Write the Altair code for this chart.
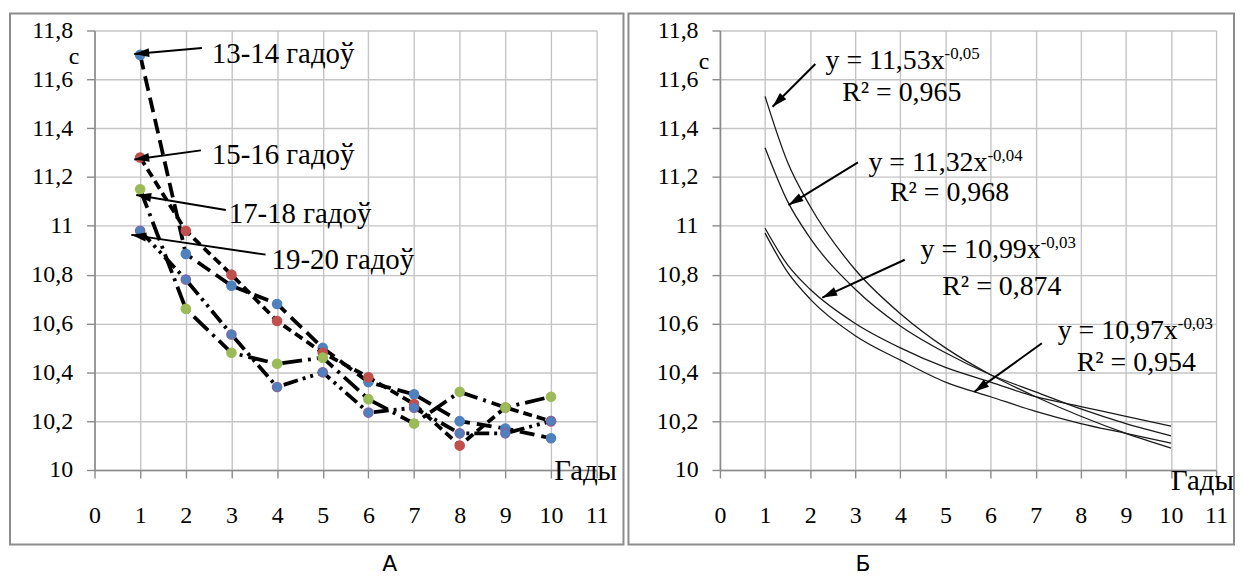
import math
import altair as alt
import pandas as pd

# ---------------- data ----------------
years = [1, 2, 3, 4, 5, 6, 7, 8, 9, 10]
series_labels = ["13-14 гадоў", "15-16 гадоў", "17-18 гадоў", "19-20 гадоў"]
speed_13_14 = [11.70, 10.885, 10.755, 10.68, 10.50, 10.36, 10.31, 10.20, 10.17, 10.13]
speed_15_16 = [11.28, 10.98, 10.80, 10.61, 10.48, 10.38, 10.27, 10.10, 10.256, 10.20]
speed_17_18 = [11.15, 10.66, 10.48, 10.435, 10.46, 10.29, 10.19, 10.32, 10.256, 10.30]
speed_19_20 = [10.98, 10.78, 10.555, 10.34, 10.40, 10.235, 10.255, 10.15, 10.15, 10.20]

fit_x = [1, 1.5, 2, 3, 4, 5, 6, 7, 8, 9, 10]
fit_13_14 = [11.53, 11.26, 11.08, 10.82, 10.64, 10.50, 10.39, 10.30, 10.22, 10.15, 10.09]
fit_15_16 = [11.32, 11.10, 10.95, 10.74, 10.59, 10.48, 10.39, 10.32, 10.25, 10.19, 10.14]
fit_17_18 = [10.99, 10.84, 10.74, 10.60, 10.50, 10.42, 10.36, 10.30, 10.26, 10.22, 10.18]
fit_19_20 = [10.97, 10.81, 10.70, 10.55, 10.45, 10.36, 10.30, 10.24, 10.19, 10.15, 10.11]

equations = ["y = 11,53x", "y = 11,32x", "y = 10,99x", "y = 10,97x"]
exponents = ["-0,05", "-0,04", "-0,03", "-0,03"]
r2_labels = ["R² = 0,965", "R² = 0,968", "R² = 0,874", "R² = 0,954"]

x_ticks = [0, 1, 2, 3, 4, 5, 6, 7, 8, 9, 10, 11]
y_ticks = [10, 10.2, 10.4, 10.6, 10.8, 11, 11.2, 11.4, 11.6, 11.8]
y_unit = "с"
x_unit = "Гады"
panel_names = ["А", "Б"]

# annotation anchor positions (data units)
left_label_pos = [(2.57, 11.705), (2.57, 11.29), (2.94, 11.05), (3.88, 10.86)]
left_arrow_tail = [(2.353, 11.728), (2.33, 11.309), (2.876, 11.065), (3.747, 10.882)]
left_arrow_tip = [(0.871, 11.704), (0.871, 11.272), (0.915, 11.126), (0.806, 10.963)]

right_eq_end = [(4.98, 11.675), (5.93, 11.256), (7.11, 10.90), (10.15, 10.568)]
right_r2_pos = [(2.71, 11.545), (3.77, 11.134), (4.93, 10.75), (7.91, 10.44)]
right_arrow_tail = [(2.115, 11.663), (3.06, 11.26), (4.097, 10.861), (7.137, 10.519)]
right_arrow_tip = [(1.167, 11.488), (1.52, 11.085), (2.269, 10.706), (5.639, 10.32)]

# ---------------- styling ----------------
W1, W2, H = 505, 499, 442
SERIF = "'Liberation Serif', 'Times New Roman', 'DejaVu Serif', 'Liberation Sans', serif"
fills = ["#4F81BD", "#C0504D", "#9BBB59", "#4F81BD"]
edges = ["#4F81BD", "#C0504D", "#9BBB59", "#8064A2"]
dashes = [[15, 7], [9, 5], [20, 6, 3, 6], [15, 5, 3, 5, 3, 5]]

xs = alt.Scale(domain=[0, 11], nice=False, zero=False)
ys = alt.Scale(domain=[10, 11.8], nice=False, zero=False)

xaxis = alt.Axis(values=x_ticks, format="d", title=None, grid=True,
                 gridColor="#c4c4c4", gridWidth=1.4, domainColor="#8a8a8a",
                 domainWidth=1.6, tickColor="#8a8a8a", tickWidth=1.4, tickSize=8,
                 labelFont=SERIF, labelFontSize=24, labelColor="black",
                 labelPadding=26, labelFlush=False, labelOverlap=False)
yaxis = alt.Axis(values=y_ticks, title=None, grid=True,
                 labelExpr="replace(format(datum.value, '.1~f'), '.', ',')",
                 gridColor="#c4c4c4", gridWidth=1.4, domainColor="#8a8a8a",
                 domainWidth=1.6, tickColor="#8a8a8a", tickWidth=1.4, tickSize=8,
                 labelFont=SERIF, labelFontSize=24, labelColor="black",
                 labelPadding=14, labelFlush=False, labelOverlap=False)


def X():
    return alt.X("x:Q", scale=xs, axis=xaxis)


def Y():
    return alt.Y("y:Q", scale=ys, axis=yaxis)


def frame(x0, x1):
    return alt.Chart(pd.DataFrame({"a": [0]})).mark_rect(
        fillOpacity=0, stroke="#8c8c8c", strokeWidth=2
    ).encode(x=alt.value(x0), x2=alt.value(x1), y=alt.value(-17), y2=alt.value(517))


def arrows(tails, tips, w):
    sx, sy = w / 11.0, H / 1.8
    rows = []
    for (tx, ty), (hx, hy) in zip(tails, tips):
        dx = (hx - tx) * sx
        dy = -(hy - ty) * sy
        ang = math.degrees(math.atan2(dx, -dy)) % 360
        rows.append({"x": tx, "y": ty, "x2": hx, "y2": hy, "hx": hx, "hy": hy, "ang": ang})
    df = pd.DataFrame(rows)
    shaft = alt.Chart(df).mark_rule(color="black", strokeWidth=2).encode(
        x=X(), y=Y(), x2="x2:Q", y2="y2:Q")
    head = alt.Chart(df).mark_point(
        shape="M0,0L0.6,2L-0.6,2Z", filled=True, color="black", opacity=1,
        size=225, strokeWidth=0
    ).encode(x=alt.X("hx:Q", scale=xs, axis=xaxis), y=alt.Y("hy:Q", scale=ys, axis=yaxis),
             angle=alt.Angle("ang:Q", scale=None))
    return [shaft, head]


def text_layer(rows, size, align, font=SERIF, dy=0):
    df = pd.DataFrame(rows)
    return alt.Chart(df).mark_text(
        font=font, fontSize=size, align=align, baseline="middle", color="black", dy=dy
    ).encode(x=X(), y=Y(), text="t:N")


# ---------------- panel A ----------------
left_layers = [frame(-85, 532)]
for vals, fc, ec, dash in zip([speed_13_14, speed_15_16, speed_17_18, speed_19_20],
                              fills, edges, dashes):
    df = pd.DataFrame({"x": years, "y": vals})
    left_layers.append(alt.Chart(df).mark_line(
        color="black", strokeWidth=3.8, strokeDash=dash, strokeCap="butt"
    ).encode(x=X(), y=Y()))
    left_layers.append(alt.Chart(df).mark_circle(
        size=90, color=fc, stroke=ec, strokeWidth=1.2, opacity=1
    ).encode(x=X(), y=Y()))
left_layers += arrows(left_arrow_tail, left_arrow_tip, W1)
left_layers.append(text_layer(
    [{"x": p[0], "y": p[1], "t": t} for p, t in zip(left_label_pos, series_labels)], 29, "left"))
left_layers.append(text_layer([{"x": -0.45, "y": 11.69, "t": y_unit}], 24, "center"))
left_layers.append(text_layer([{"x": 10.07, "y": 9.994, "t": x_unit}], 29, "left"))
left_layers.append(text_layer([{"x": 6.47, "y": 9.613, "t": panel_names[0]}], 22, "center",
                              font="DejaVu Sans"))
left = alt.layer(*left_layers).properties(width=W1, height=H)

# ---------------- panel B ----------------
right_layers = [frame(-92, 517)]
for vals in [fit_13_14, fit_15_16, fit_17_18, fit_19_20]:
    df = pd.DataFrame({"x": fit_x, "y": vals})
    right_layers.append(alt.Chart(df).mark_line(
        color="#1a1a1a", strokeWidth=1.3, interpolate="monotone"
    ).encode(x=X(), y=Y()))
right_layers += arrows(right_arrow_tail, right_arrow_tip, W2)
right_layers.append(text_layer(
    [{"x": p[0], "y": p[1], "t": t} for p, t in zip(right_eq_end, equations)], 28, "right"))
right_layers.append(text_layer(
    [{"x": p[0], "y": p[1] + 0.03, "t": t} for p, t in zip(right_eq_end, exponents)], 17, "left"))
right_layers.append(text_layer(
    [{"x": p[0], "y": p[1], "t": t} for p, t in zip(right_r2_pos, r2_labels)], 28, "left"))
right_layers.append(text_layer([{"x": -0.35, "y": 11.67, "t": y_unit}], 24, "center"))
right_layers.append(text_layer([{"x": 10.0, "y": 9.953, "t": x_unit}], 29, "left"))
right_layers.append(text_layer([{"x": 3.17, "y": 9.613, "t": panel_names[1]}], 22, "center",
                               font="DejaVu Sans"))
right = alt.layer(*right_layers).properties(width=W2, height=H)

chart = alt.hconcat(left, right, spacing=124, bounds="flush").properties(
    padding={"left": 1, "top": 3, "right": 0, "bottom": 0},
    background="white",
).configure_view(stroke=None)

chart.save("out.html", embed_options={"renderer": "svg", "actions": False})
